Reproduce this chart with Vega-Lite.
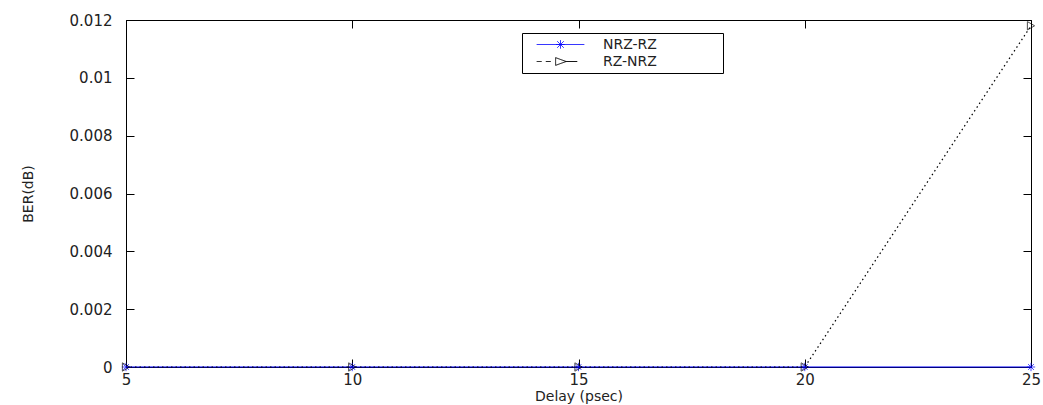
{
  "$schema": "https://vega.github.io/schema/vega-lite/v6.json",
  "width": 905,
  "height": 347,
  "autosize": {"type": "none"},
  "padding": {"left": 126, "top": 20, "right": 12, "bottom": 38},
  "background": "white",
  "config": {
    "view": {"stroke": "black", "strokeWidth": 1},
    "font": "DejaVu Sans",
    "axis": {
      "grid": false,
      "domainColor": "black",
      "tickColor": "black",
      "tickWidth": 1,
      "labelFlush": false,
      "labelFont": "DejaVu Sans",
      "labelFontSize": 15,
      "labelColor": "#222",
      "titleFont": "DejaVu Sans",
      "titleFontSize": 14,
      "titleFontWeight": "normal",
      "titleColor": "#222",
      "zindex": 1
    }
  },
  "data": {
    "values": [
      {"delay": 5, "ber": 0, "series": "NRZ-RZ"},
      {"delay": 10, "ber": 0, "series": "NRZ-RZ"},
      {"delay": 15, "ber": 0, "series": "NRZ-RZ"},
      {"delay": 20, "ber": 0, "series": "NRZ-RZ"},
      {"delay": 25, "ber": 0, "series": "NRZ-RZ"},
      {"delay": 5, "ber": 0, "series": "RZ-NRZ"},
      {"delay": 10, "ber": 0, "series": "RZ-NRZ"},
      {"delay": 15, "ber": 0, "series": "RZ-NRZ"},
      {"delay": 20, "ber": 0, "series": "RZ-NRZ"},
      {"delay": 25, "ber": 0.0118, "series": "RZ-NRZ"}
    ]
  },
  "resolve": {"axis": {"x": "independent", "y": "independent"}},
  "layer": [
    {
      "transform": [{"filter": "datum.series === 'NRZ-RZ'"}],
      "mark": {"type": "line", "clip": false, "strokeWidth": 1.2},
      "encoding": {
        "x": {
          "field": "delay", "type": "quantitative",
          "scale": {"domain": [5, 25], "nice": false, "zero": false},
          "axis": {"orient": "bottom", "values": [5, 10, 15, 20, 25], "title": "Delay (psec)", "ticks": false, "labelPadding": 5, "titlePadding": 2}
        },
        "y": {
          "field": "ber", "type": "quantitative",
          "scale": {"domain": [0, 0.012], "nice": false},
          "axis": {"orient": "left", "values": [0, 0.002, 0.004, 0.006, 0.008, 0.01, 0.012], "title": "BER(dB)", "ticks": false, "labelPadding": 14, "titlePadding": 34, "format": "~g"}
        },
        "color": {
          "field": "series", "type": "nominal",
          "scale": {"domain": ["NRZ-RZ", "RZ-NRZ"], "range": ["#0000ff", "#000000"]},
          "legend": {
            "title": null, "orient": "none", "legendX": 396, "legendY": 13,
            "strokeColor": "black", "fillColor": "white", "padding": 4,
            "labelFont": "DejaVu Sans", "labelFontSize": 14, "labelColor": "#222",
            "symbolSize": 196, "symbolStrokeWidth": 1, "symbolOffset": 27,
            "rowPadding": 2, "labelOffset": 35,
            "labelExpr": "datum.label + '\u2800\u2800\u2800\u2800\u2800\u2800'",
            "encode": {
              "symbols": {
                "update": {
                  "shape": {"signal": "datum.value === 'NRZ-RZ' ? 'M-3.4,0L3.4,0M-0.6,0L0.6,0M0,-0.6L0,0.6M-0.45,-0.45L0.45,0.45M-0.45,0.45L0.45,-0.45' : 'M-3.4,0L-2.7,0M-2.1,0L-1.4,0M-0.7,0L-0.7,-0.55L0.8,0L-0.7,0.55L-0.7,0M0.8,0L2.4,0'"},
                  "strokeDash": {"value": [1, 0]},
                  "fill": {"value": "transparent"}
                }
              }
            }
          }
        }
      }
    },
    {
      "transform": [{"filter": "datum.series === 'RZ-NRZ'"}],
      "mark": {"type": "line", "clip": false, "strokeWidth": 1.2, "strokeDash": [1.5, 3]},
      "encoding": {
        "x": {"field": "delay", "type": "quantitative", "axis": null},
        "y": {"field": "ber", "type": "quantitative", "axis": null},
        "color": {"field": "series", "type": "nominal", "legend": null}
      }
    },
    {
      "transform": [{"filter": "datum.series === 'NRZ-RZ'"}],
      "mark": {"type": "point", "filled": false, "clip": false, "strokeWidth": 1, "shape": "M-1,0L1,0M0,-1L0,1M-0.7,-0.7L0.7,0.7M-0.7,0.7L0.7,-0.7", "size": 70},
      "encoding": {
        "x": {"field": "delay", "type": "quantitative", "axis": {"orient": "bottom", "values": [5, 10, 15, 20, 25], "labels": false, "domain": false, "title": null, "ticks": true, "tickSize": -8}},
        "y": {"field": "ber", "type": "quantitative", "axis": {"orient": "left", "values": [0, 0.002, 0.004, 0.006, 0.008, 0.01, 0.012], "labels": false, "domain": false, "title": null, "ticks": true, "tickSize": -8}},
        "color": {"field": "series", "type": "nominal", "legend": null}
      }
    },
    {
      "transform": [{"filter": "datum.series === 'RZ-NRZ'"}],
      "mark": {"type": "point", "filled": false, "clip": false, "strokeWidth": 1, "shape": "triangle-right", "size": 70},
      "encoding": {
        "x": {"field": "delay", "type": "quantitative", "axis": null},
        "y": {"field": "ber", "type": "quantitative", "axis": null},
        "color": {"field": "series", "type": "nominal", "legend": null}
      }
    },
    {
      "mark": {"type": "point", "opacity": 0},
      "encoding": {
        "x": {"field": "delay", "type": "quantitative", "axis": {"orient": "top", "values": [5, 10, 15, 20, 25], "labels": false, "domain": false, "title": null, "ticks": true, "tickSize": -8}},
        "y": {"field": "ber", "type": "quantitative", "axis": {"orient": "right", "values": [0, 0.002, 0.004, 0.006, 0.008, 0.01, 0.012], "labels": false, "domain": false, "title": null, "ticks": true, "tickSize": -8}}
      }
    }
  ]
}
